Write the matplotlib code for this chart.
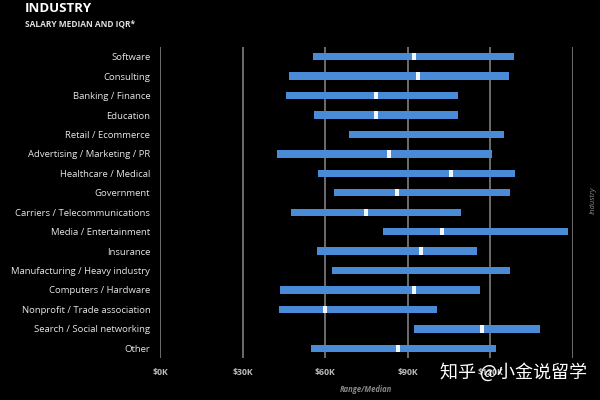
import matplotlib.pyplot as plt
import numpy as np

plt.rcParams['font.family'] = ['Open Sans', 'DejaVu Sans']

industries = ['Software', 'Consulting', 'Banking / Finance', 'Education',
              'Retail / Ecommerce', 'Advertising / Marketing / PR',
              'Healthcare / Medical', 'Government',
              'Carriers / Telecommunications', 'Media / Entertainment',
              'Insurance', 'Manufacturing / Heavy industry',
              'Computers / Hardware', 'Nonprofit / Trade association',
              'Search / Social networking', 'Other']
# salary in $K: lower quartile, upper quartile, median (None = not shown)
q1 = [55.5, 46.7, 45.7, 55.9, 68.7, 42.5, 57.5, 63.2,
      47.4, 80.9, 57.2, 62.6, 43.7, 43.4, 92.4, 55.0]
q3 = [128.4, 126.7, 108.3, 108.3, 124.8, 120.4, 129.0, 127.1,
      109.5, 148.3, 115.0, 127.1, 116.4, 100.5, 137.9, 122.1]
median = [92.1, 93.6, 78.6, 78.6, None, 83.2, 105.7, 86.0,
          74.7, 102.3, 94.7, None, 92.1, 59.9, 117.1, 86.5]
ticks = [0, 30, 60, 90, 120, 150]
tick_labels = ['$0K', '$30K', '$60K', '$90K', '$120K', '']

fig = plt.figure(figsize=(6, 4), dpi=100, facecolor='black')
ax = fig.add_axes([160 / 600, 42 / 400, 413 / 600, 311 / 400])
ax.set_facecolor('black')

y = np.arange(len(industries))
for t in ticks:
    ax.axvline(t, color='#8a8a8a', lw=1.1, zorder=1)

ax.barh(y, np.array(q3) - np.array(q1), left=q1, height=0.38,
        color='#4a8bd8', zorder=2)
for i, m in enumerate(median):
    if m is not None:
        ax.barh(i, 1.5, left=m - 0.75, height=0.38, color='#f2f8ff', zorder=3)

ax.set_xlim(0, 150)
ax.set_ylim(15.5, -0.5)
ax.set_yticks(y)
ax.set_yticklabels(industries, color='#e6e6e6', fontsize=6.8)
ax.set_xticks(ticks)
ax.set_xticklabels(tick_labels, color='#bbbbbb', fontsize=6.3, fontweight='bold')
ax.tick_params(length=0, pad=7)
ax.tick_params(axis='x', pad=7)
for s in ax.spines.values():
    s.set_visible(False)

fig.text(25 / 600, 1 - 9 / 400, 'INDUSTRY', color='white', fontsize=9.5,
         fontweight='bold', va='center')
fig.text(25 / 600, 1 - 24 / 400, 'SALARY MEDIAN AND IQR*', color='#e0e0e0',
         fontsize=6, fontweight='bold', va='center')
fig.text(366 / 600, 1 - 389 / 400, 'Range/Median', color='#888888',
         fontsize=5.5, style='italic', fontweight='bold', ha='center', va='center')
fig.text(593 / 600, 1 - 200 / 400, 'Industry', color='#888888', fontsize=5.5,
         style='italic', rotation=90, ha='center', va='center')
fig.text(440 / 600, 1 - 372 / 400, '知乎 @小金说留学', color='white', fontsize=13,
         family=['Noto Sans CJK SC', 'DejaVu Sans'], va='center')

fig.savefig('out.png', dpi=100, facecolor='black')
